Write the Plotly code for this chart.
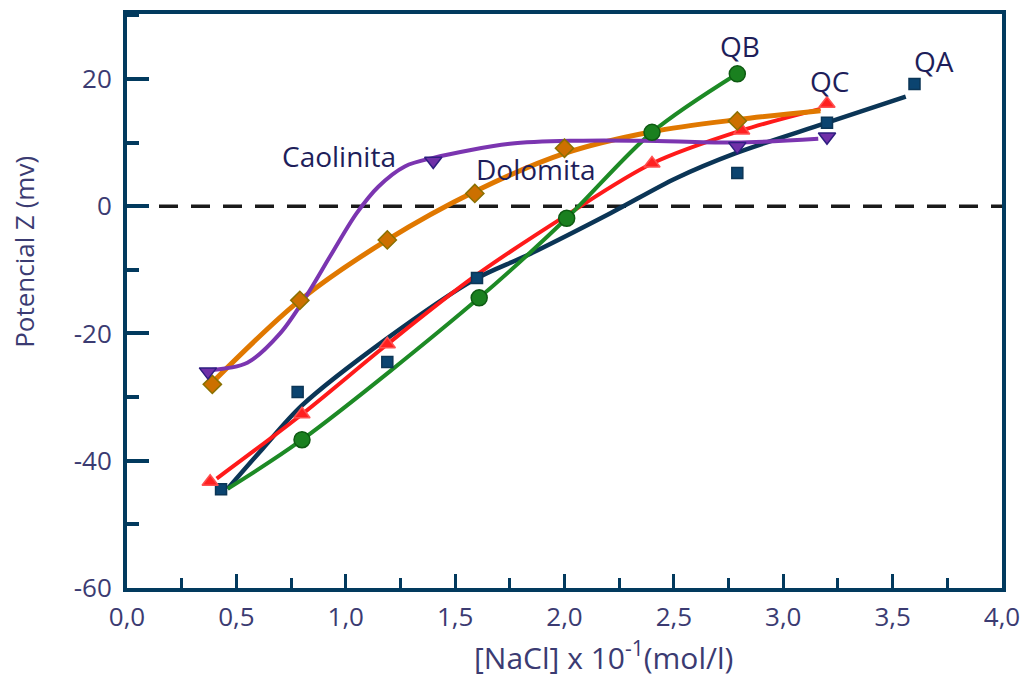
import plotly.graph_objects as go

# ---------------- data ----------------
# Caolinita (purple, inverted triangles)
cao_x = [0.37, 1.40, 2.79, 3.20]
cao_y = [-26.0, 7.1, 9.4, 10.9]
cao_curve_x = [0.37, 0.55, 0.70, 0.82, 0.93, 1.05, 1.15, 1.27, 1.40, 1.75, 2.06, 2.36, 2.78, 3.16]
cao_curve_y = [-25.8, -24.6, -20.0, -14.1, -7.8, -1.1, 3.1, 6.25, 7.6, 9.8, 10.3, 10.3, 10.0, 10.6]

# Dolomita (orange, diamonds)
dol_x = [0.39, 0.79, 1.19, 1.59, 2.00, 2.79]
dol_y = [-28.0, -14.8, -5.3, 2.0, 9.1, 13.4]
dol_curve_x = [0.39, 0.79, 1.19, 1.59, 2.00, 2.40, 2.79, 3.17]
dol_curve_y = [-27.7, -14.8, -5.3, 2.3, 8.3, 11.7, 13.6, 15.0]

# QB (green, circles)
qb_x = [0.80, 1.61, 2.01, 2.40, 2.79]
qb_y = [-36.7, -14.4, -1.9, 11.6, 20.8]
qb_curve_x = [0.46, 0.80, 1.61, 2.01, 2.40, 2.79]
qb_curve_y = [-44.4, -36.7, -14.4, -1.9, 11.6, 20.8]

# QC (red, triangles)
qc_x = [0.38, 0.80, 1.19, 2.40, 2.81, 3.20]
qc_y = [-43.3, -32.7, -21.7, 6.7, 11.9, 16.1]
qc_curve_x = [0.41, 0.80, 1.19, 1.59, 2.01, 2.40, 2.81, 3.17]
qc_curve_y = [-42.8, -32.7, -21.7, -11.0, -1.4, 6.7, 11.9, 15.3]

# QA (navy, squares)
qa_x = [0.43, 0.78, 1.19, 1.60, 2.79, 3.20, 3.60]
qa_y = [-44.5, -29.2, -24.5, -11.3, 5.2, 13.1, 19.2]
qa_curve_x = [0.46, 0.62, 0.80, 1.18, 1.59, 1.83, 2.21, 2.51, 2.78, 3.19, 3.56]
qa_curve_y = [-44.4, -38.1, -31.3, -21.0, -11.5, -7.7, -1.1, 4.4, 8.3, 13.0, 17.2]

labels = ["Caolinita", "Dolomita", "QB", "QC", "QA"]
label_x = [0.97, 1.87, 2.80, 3.21, 3.69]
label_y = [7.9, 5.8, 25.2, 19.7, 22.8]

x_ticks = [0.0, 0.5, 1.0, 1.5, 2.0, 2.5, 3.0, 3.5, 4.0]
x_tick_text = ["0,0", "0,5", "1,0", "1,5", "2,0", "2,5", "3,0", "3,5", "4,0"]
y_ticks = [-60, -40, -20, 0, 20]
y_tick_text = ["-60", "-40", "-20", "0", "20"]

# ---------------- styling ----------------
AXIS = "#023a5e"
TEXT = "#3b3b72"
LABEL = "#1e1e5a"
FONT = "Open Sans"

fig = go.Figure()

# zero reference line
fig.add_trace(go.Scatter(x=[0, 4], y=[0, 0], mode="lines",
                         line=dict(color="#1a1a1a", width=3.5, dash="19px,13px"),
                         hoverinfo="skip", showlegend=False))

curves = [
    (qa_curve_x, qa_curve_y, "#0b3556", 4.5),
    (qc_curve_x, qc_curve_y, "#ff1a1a", 4),
    (qb_curve_x, qb_curve_y, "#1d8a25", 4),
    (dol_curve_x, dol_curve_y, "#e07800", 5),
    (cao_curve_x, cao_curve_y, "#7b35b0", 4),
]
for cx, cy, col, w in curves:
    fig.add_trace(go.Scatter(x=cx, y=cy, mode="lines",
                             line=dict(color=col, width=w, shape="spline", smoothing=0.9),
                             showlegend=False, hoverinfo="skip"))

markers = [
    (qa_x, qa_y, "square", "#0b4470", "#0b3556", 11),
    (qc_x, qc_y, "triangle-up", "#ff2020", "#ff5050", 14),
    (dol_x, dol_y, "diamond", "#cc7000", "#8a7000", 14),
    (qb_x, qb_y, "circle", "#1a801f", "#0e5a12", 16),
    (cao_x, cao_y, "triangle-down", "#7030a8", "#2e1e80", 15),
]
for mx, my, sym, fill, edge, sz in markers:
    fig.add_trace(go.Scatter(x=mx, y=my, mode="markers",
                             marker=dict(symbol=sym, color=fill, size=sz,
                                         line=dict(color=edge, width=1.5)),
                             showlegend=False))

for t, lx, ly in zip(labels, label_x, label_y):
    fig.add_annotation(x=lx, y=ly, text=t, showarrow=False,
                       font=dict(family=FONT, size=28, color=LABEL),
                       xanchor="center", yanchor="middle")

# axis titles as annotations for exact placement
fig.add_annotation(xref="paper", yref="paper", x=-0.117, y=0.585,
                   text="Potencial Z (mv)", textangle=-90, showarrow=False,
                   font=dict(family=FONT, size=26, color=TEXT),
                   xanchor="center", yanchor="middle")
fig.add_annotation(xref="paper", yref="paper", x=0.544, y=-0.118,
                   text="[NaCl] x 10<sup>-1</sup>(mol/l)", showarrow=False,
                   font=dict(family=FONT, size=30, color=TEXT),
                   xanchor="center", yanchor="middle")

fig.update_xaxes(range=[0, 4.0], tickvals=x_ticks, ticktext=x_tick_text,
                 ticks="inside", ticklen=14, tickwidth=3, tickcolor=AXIS,
                 minor=dict(dtick=0.25, ticks="inside", ticklen=10, tickwidth=3, tickcolor=AXIS),
                 showline=True, linecolor=AXIS, linewidth=4, mirror=True,
                 showgrid=False, zeroline=False,
                 ticklabelstandoff=3,
                 tickfont=dict(family=FONT, size=26, color=TEXT))
fig.update_yaxes(range=[-60, 30.2], tickvals=y_ticks, ticktext=y_tick_text,
                 ticks="inside", ticklen=22, tickwidth=4, tickcolor=AXIS,
                 minor=dict(dtick=10, ticks="inside", ticklen=12, tickwidth=4, tickcolor=AXIS),
                 showline=True, linecolor=AXIS, linewidth=4, mirror=True,
                 showgrid=False, zeroline=False,
                 ticklabelstandoff=6,
                 tickfont=dict(family=FONT, size=26, color=TEXT))

fig.update_layout(width=1030, height=677,
                  margin=dict(l=127, r=20, t=10, b=89),
                  paper_bgcolor="white", plot_bgcolor="white",
                  showlegend=False)

fig.write_html("out.html")
